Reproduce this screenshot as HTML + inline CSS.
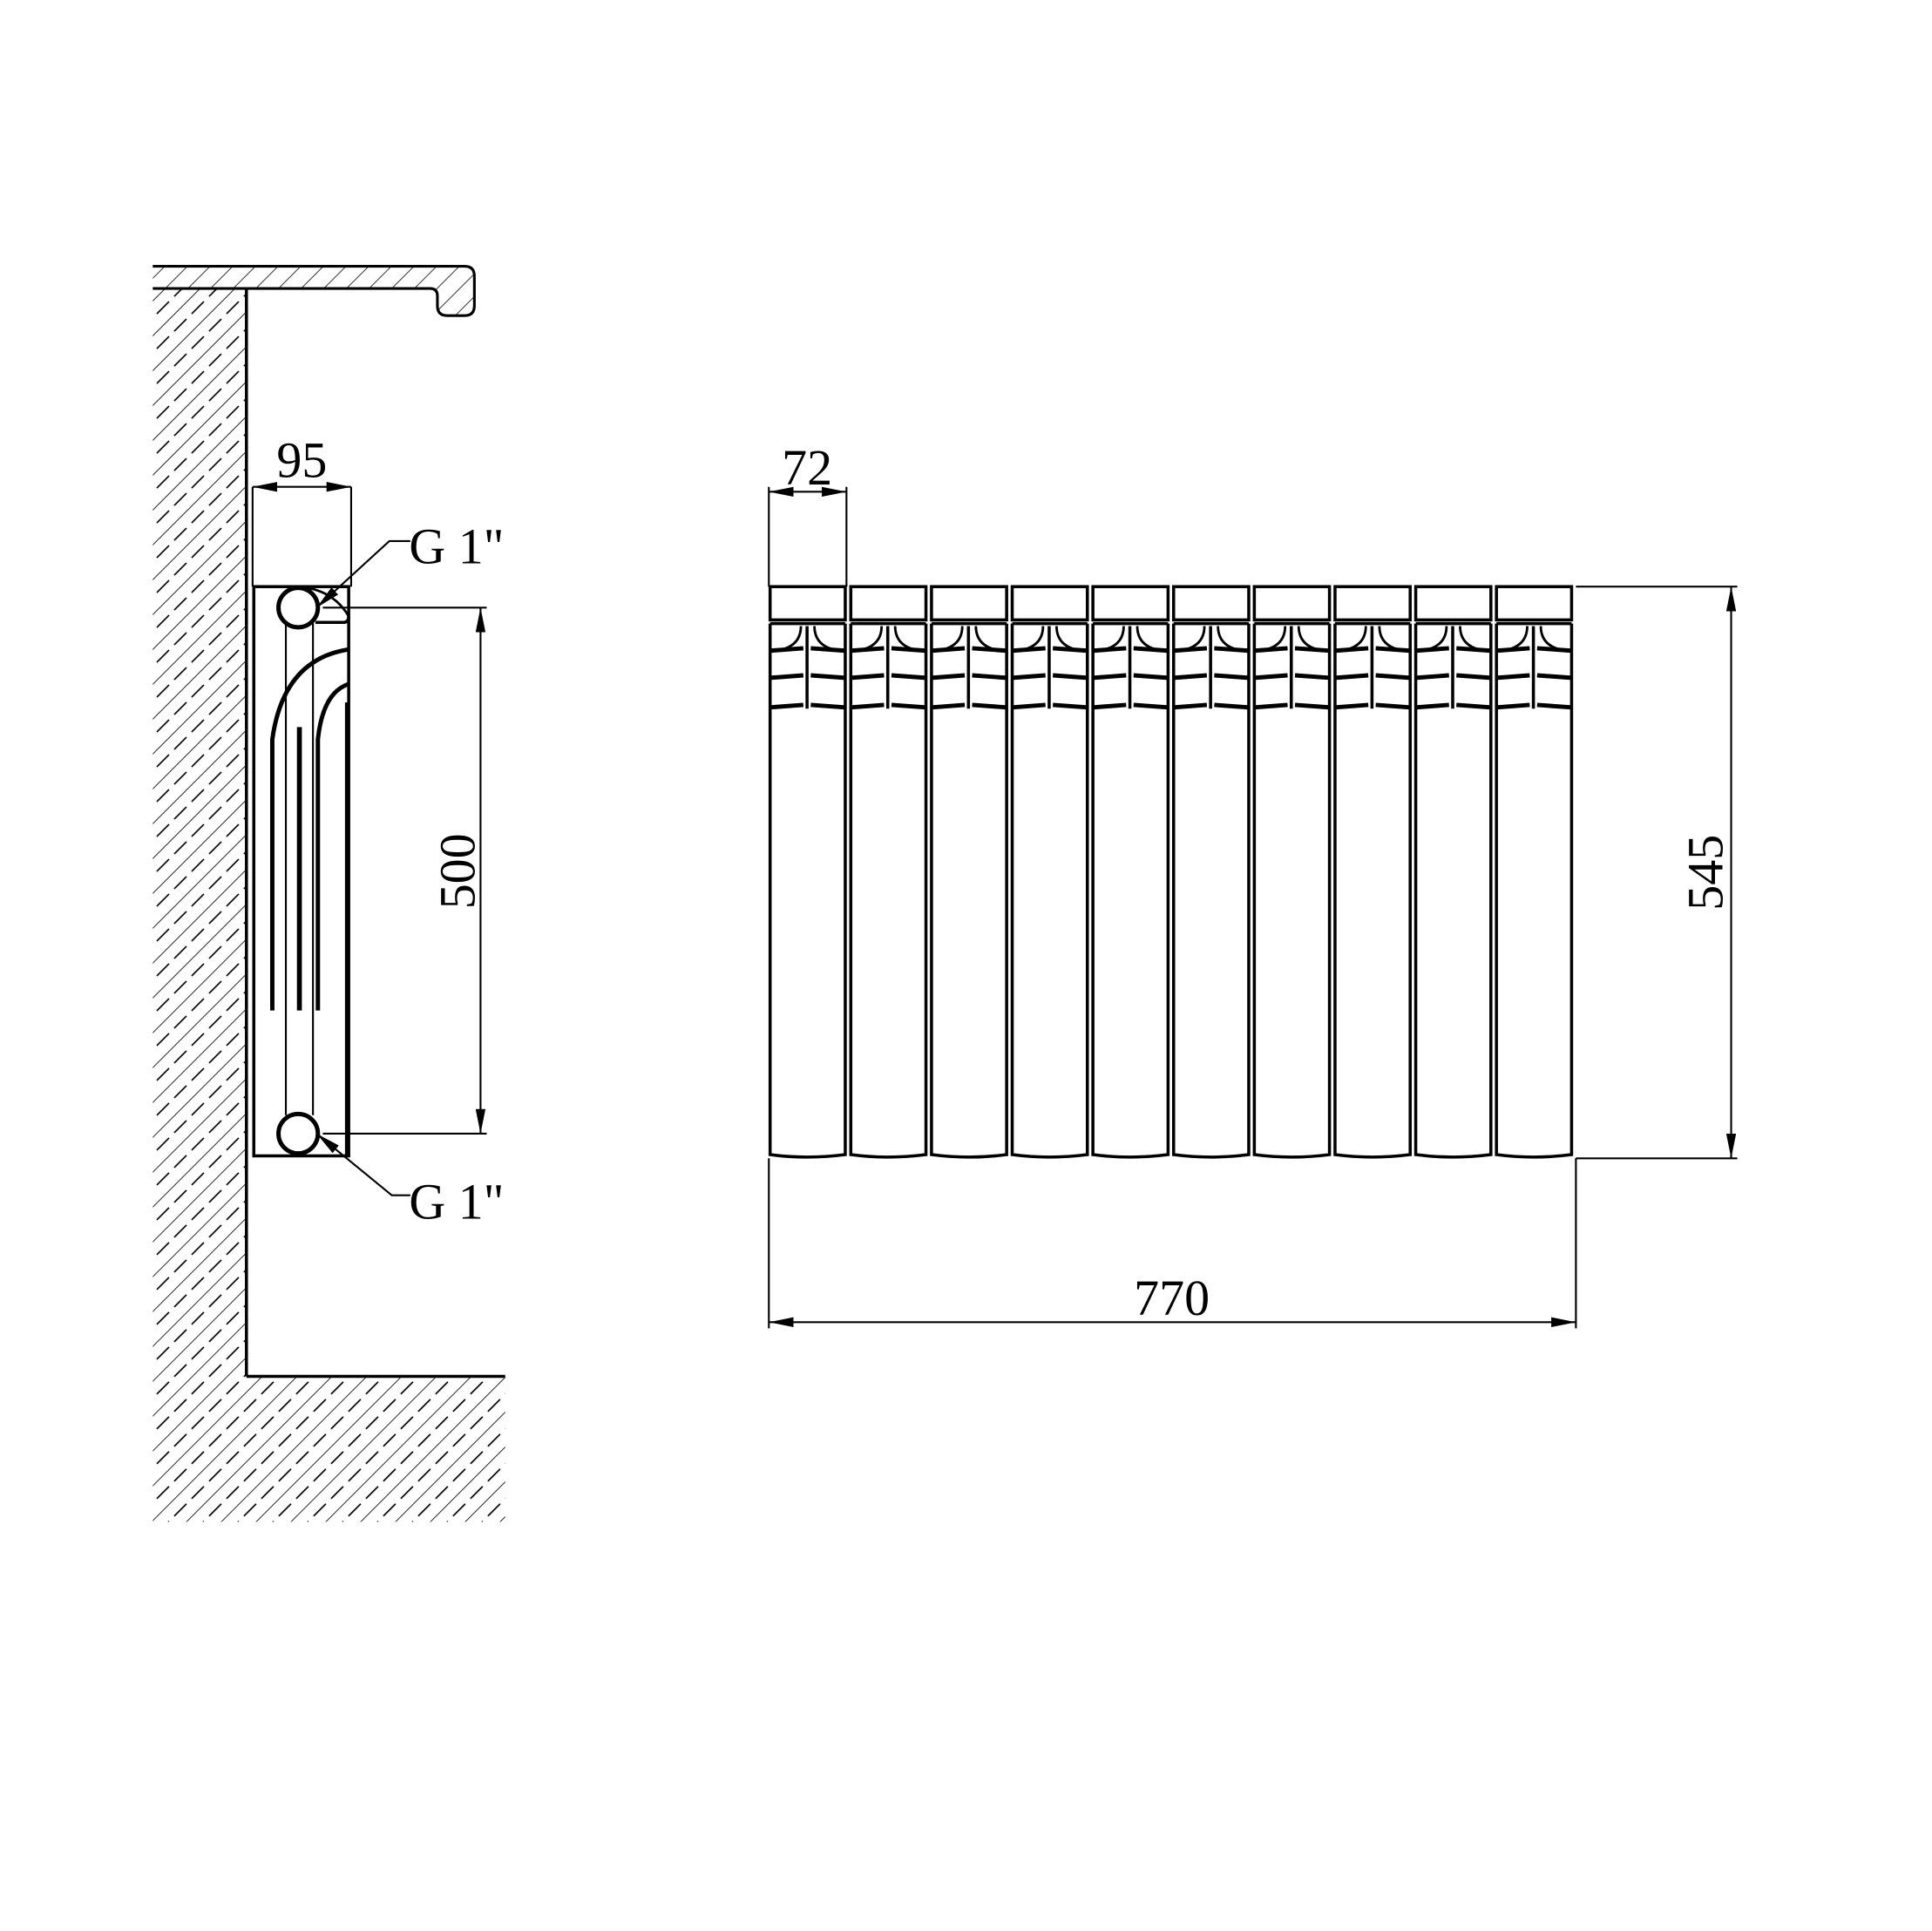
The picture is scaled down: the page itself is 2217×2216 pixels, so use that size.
<!DOCTYPE html>
<html><head><meta charset="utf-8"><style>html,body{margin:0;padding:0;background:#fff}svg{display:block}</style></head>
<body>
<svg width="2217" height="2216" viewBox="0 0 1568 1567" xmlns="http://www.w3.org/2000/svg" font-family="'Liberation Serif',serif">
<defs>
<pattern id="h" width="20" height="20" patternUnits="userSpaceOnUse" patternTransform="rotate(45)">
<line x1="0" y1="0" x2="0" y2="20" stroke="#000" stroke-width="1.2"/>
<line x1="10" y1="0" x2="10" y2="20" stroke="#000" stroke-width="1.2" stroke-dasharray="10 6"/>
</pattern>
<pattern id="h2" width="13" height="13" patternUnits="userSpaceOnUse" patternTransform="rotate(45)">
<line x1="0" y1="0" x2="0" y2="13" stroke="#000" stroke-width="1.1"/>
</pattern>
<marker id="a" viewBox="0 0 20 8" refX="20" refY="4" markerWidth="20" markerHeight="8" markerUnits="userSpaceOnUse" orient="auto-start-reverse"><path d="M0,0 L20,4 L0,8z"/></marker>
</defs>
<g fill="none" stroke="#000" stroke-width="2">
<rect x="124" y="234" width="76" height="1001" fill="url(#h)" stroke="none"/>
<rect x="200" y="1117" width="210" height="118" fill="url(#h)" stroke="none"/>
<path d="M124,216 H377 Q385,216 385,224 V248 Q385,256 377,256 H363 Q355,256 355,248 V240 Q355,234 349,234 H124" fill="url(#h2)" stroke-width="2.2"/>
<line x1="200" y1="234" x2="200" y2="1117" stroke-width="2.5"/>
<line x1="200" y1="1117" x2="410" y2="1117" stroke-width="2.5"/>
<rect x="206" y="476" width="77" height="462" stroke-width="2.5"/>
<line x1="232" y1="505" x2="232" y2="905" stroke-width="1.5"/>
<line x1="254" y1="505" x2="254" y2="905" stroke-width="1.5"/>
<path d="M242,476 Q270,478 283,500" stroke-width="2"/>
<path d="M256,505 H279 Q283,505 283,500" stroke-width="2.5"/>
<circle cx="242" cy="493" r="16" stroke-width="3.5"/>
<circle cx="242" cy="920" r="16" stroke-width="3.5"/>
<path d="M221,820 V600 Q230,535 283,527" stroke-width="3.5"/>
<path d="M258,820 V600 Q262,562 283,555" stroke-width="3.5"/>
<line x1="243" y1="590" x2="243" y2="820" stroke-width="4"/>
<line x1="282" y1="570" x2="282" y2="938" stroke-width="4"/>
<line x1="205" y1="395" x2="205" y2="476" stroke-width="1.5"/>
<line x1="285" y1="395" x2="285" y2="476" stroke-width="1.5"/>
<line x1="205" y1="395" x2="285" y2="395" stroke-width="1.5" marker-start="url(#a)" marker-end="url(#a)"/>
<line x1="262" y1="493" x2="395" y2="493" stroke-width="1.5"/>
<line x1="262" y1="920" x2="395" y2="920" stroke-width="1.5"/>
<line x1="390" y1="493" x2="390" y2="920" stroke-width="1.5" marker-start="url(#a)" marker-end="url(#a)"/>
<polyline points="333,439 316,439 257,493" stroke-width="1.5" marker-end="url(#a)"/>
<polyline points="333,970 318,970 257,920" stroke-width="1.5" marker-end="url(#a)"/>
<line x1="624" y1="395" x2="624" y2="476" stroke-width="1.5"/>
<line x1="687" y1="395" x2="687" y2="476" stroke-width="1.5"/>
<line x1="624" y1="399" x2="687" y2="399" stroke-width="1.5" marker-start="url(#a)" marker-end="url(#a)"/>
<line x1="1279" y1="476" x2="1410" y2="476" stroke-width="1.5"/>
<line x1="1279" y1="940" x2="1410" y2="940" stroke-width="1.5"/>
<line x1="1405" y1="476" x2="1405" y2="940" stroke-width="1.5" marker-start="url(#a)" marker-end="url(#a)"/>
<line x1="624" y1="940" x2="624" y2="1078" stroke-width="1.5"/>
<line x1="1279" y1="940" x2="1279" y2="1078" stroke-width="1.5"/>
<line x1="624" y1="1073" x2="1279" y2="1073" stroke-width="1.5" marker-start="url(#a)" marker-end="url(#a)"/>
</g>
<g id="sec" fill="none" stroke="#000">
<rect x="625" y="476" width="61" height="27" stroke-width="2.5"/>
<line x1="625" y1="506" x2="686" y2="506" stroke-width="2.5"/>
<path d="M625,506 V937 Q655,941 686,937 V506" stroke-width="2.5"/>
<line x1="655" y1="508" x2="655" y2="575" stroke-width="2.5"/>
<path d="M650,508 Q650,525 630,528" stroke-width="2"/>
<path d="M661,508 Q661,525 681,528" stroke-width="2"/>
<path d="M625,528 L652,526 M658,526 L686,528 M625,550 L652,548 M658,548 L686,550 M625,574 L652,572 M658,572 L686,574" stroke-width="3.5"/>
</g>
<use href="#sec" x="65.5"/><use href="#sec" x="131"/><use href="#sec" x="196.5"/><use href="#sec" x="262"/><use href="#sec" x="327.5"/><use href="#sec" x="393"/><use href="#sec" x="458.5"/><use href="#sec" x="524"/><use href="#sec" x="589.5"/>
<g font-size="41" fill="#000">
<text x="245" y="387" text-anchor="middle">95</text>
<text x="655" y="393" text-anchor="middle">72</text>
<text x="332" y="457">G 1"</text>
<text x="332" y="989">G 1"</text>
<text x="951" y="1067" text-anchor="middle">770</text>
<text transform="translate(385,707) rotate(-90)" text-anchor="middle">500</text>
<text transform="translate(1398,708) rotate(-90)" text-anchor="middle">545</text>
</g>
</svg>
</body></html>
